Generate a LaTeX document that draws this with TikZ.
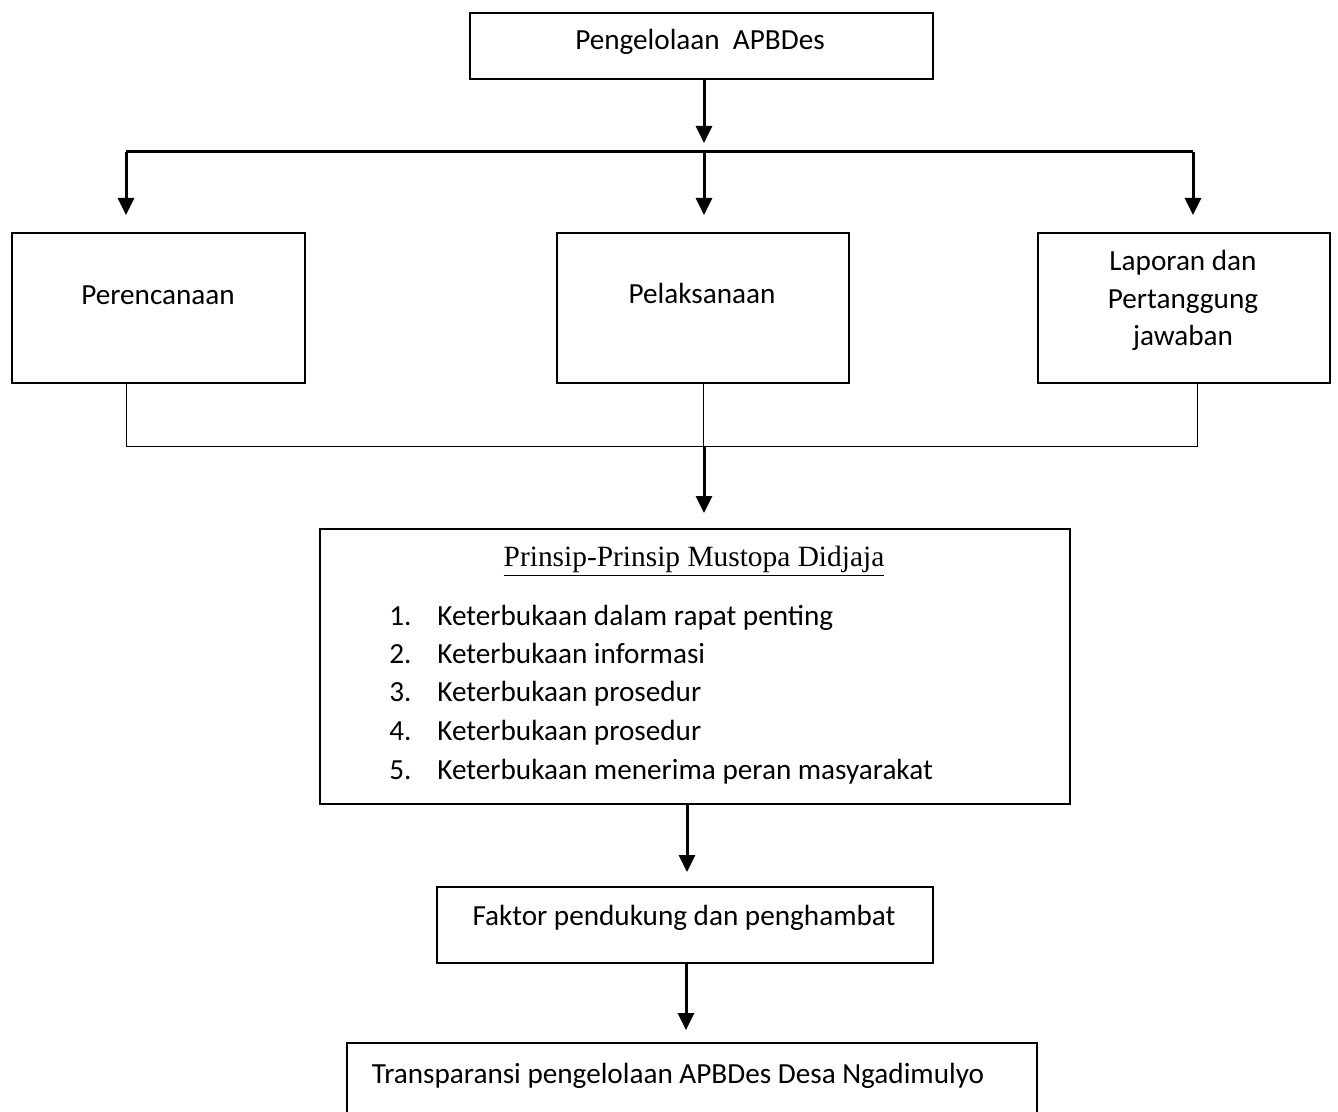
\documentclass[tikz,border=0pt]{standalone}
\usepackage{fontspec}
\setmainfont{Carlito}
\newfontfamily\tmsfont{Liberation Serif}
\usetikzlibrary{arrows.meta}
\begin{document}
\begin{tikzpicture}[x=0.5pt,y=-0.5pt,
  box/.style={draw, line width=1pt, inner sep=0pt, anchor=north west},
  arr/.style={line width=1.5pt, -{Triangle[width=8pt,length=8.5pt]}},
  thickline/.style={line width=1.5pt},
  thinline/.style={line width=0.5pt},
  txt/.style={inner sep=0pt, anchor=base, font=\fontsize{14.6}{18}\selectfont},
  ltxt/.style={inner sep=0pt, anchor=base west, font=\fontsize{14.6}{18}\selectfont}]
\useasboundingbox (0,0) rectangle (1338,1112);
\begin{scope}
\clip (0,0) rectangle (1338,1112);
% boxes
\node[box, minimum width=231.5pt, minimum height=33pt] (top) at (469,12) {};
\node[box, minimum width=146.5pt, minimum height=75pt] (per) at (11,232) {};
\node[box, minimum width=146pt, minimum height=75pt] (pel) at (556,232) {};
\node[box, minimum width=146pt, minimum height=75pt] (lap) at (1037,232) {};
\node[box, minimum width=375pt, minimum height=137.5pt] (pri) at (319,528) {};
\node[box, minimum width=248pt, minimum height=38pt] (fak) at (436,886) {};
\node[box, minimum width=345pt, minimum height=60pt] (tra) at (346,1042) {};
% texts
\node[txt] (ttop) at (700,50) {Pengelolaan\ \ APBDes};
\node[txt] (tper) at (158,305) {Perencanaan};
\node[txt] (tpel) at (702,304) {Pelaksanaan};
\node[txt] (tlap1) at (1183,271) {Laporan dan};
\node[txt] (tlap2) at (1183,309) {Pertanggung};
\node[txt] (tlap3) at (1183,346) {jawaban};
\node[txt, font=\tmsfont\fontsize{14.7}{18}\selectfont] (thead) at (694,566) {\underline{Prinsip-Prinsip Mustopa Didjaja}};
\node[ltxt] (n1) at (389,625) {1.};
\node[ltxt] (i1) at (437,625) {Keterbukaan dalam rapat penting};
\node[ltxt] (n2) at (389,663) {2.};
\node[ltxt] (i2) at (437,663) {Keterbukaan informasi};
\node[ltxt] (n3) at (389,701) {3.};
\node[ltxt] (i3) at (437,701) {Keterbukaan prosedur};
\node[ltxt] (n4) at (389,740) {4.};
\node[ltxt] (i4) at (437,740) {Keterbukaan prosedur};
\node[ltxt] (n5) at (389,779) {5.};
\node[ltxt] (i5) at (437,779) {Keterbukaan menerima peran masyarakat};
\node[txt] (tfak) at (684,925) {Faktor pendukung dan penghambat};
\node[txt] (ttra) at (678,1083) {Transparansi pengelolaan APBDes Desa Ngadimulyo};
% connectors
\coordinate (h1) at (126,152);
\coordinate (h2) at (704,152);
\coordinate (h3) at (1193,152);
\draw[arr, shorten >=4.5pt] (top.south -| h2) -- (h2);
\draw[thickline] (h1) -- (h3);
\draw[arr, shorten >=8.5pt] (h1) -- (h1 |- per.north);
\draw[arr, shorten >=8.5pt] (h2) -- (h2 |- pel.north);
\draw[arr, shorten >=8.5pt] (h3) -- (h3 |- lap.north);
\coordinate (b1) at (126,446);
\coordinate (b2) at (703,446);
\coordinate (b3) at (1197,446);
\draw[thinline] (b1 |- per.south) -- (b1) -- (b3) -- (b3 |- lap.south);
\draw[thinline] (b2 |- pel.south) -- (b2);
\coordinate (a3) at (704,446);
\draw[arr, shorten >=7.5pt] (a3) -- (a3 |- pri.north);
\coordinate (a4) at (687,0);
\draw[arr, shorten >=7pt] (pri.south -| a4) -- (fak.north -| a4);
\coordinate (a5) at (686,0);
\draw[arr, shorten >=6pt] (fak.south -| a5) -- (tra.north -| a5);
\end{scope}
\end{tikzpicture}
\end{document}
